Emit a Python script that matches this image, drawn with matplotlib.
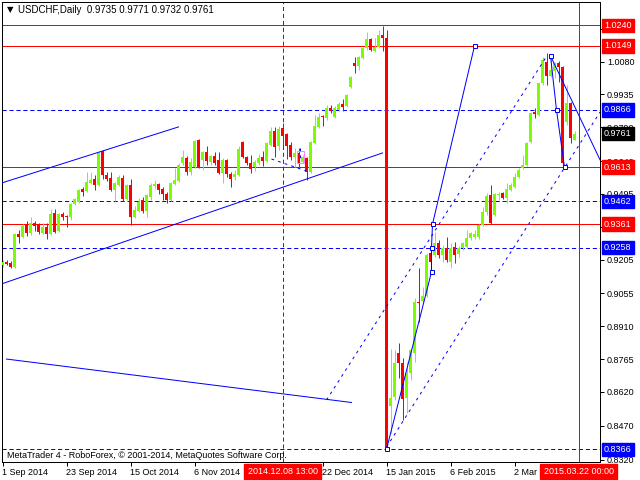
import matplotlib.pyplot as plt
from matplotlib.patches import Rectangle
from matplotlib.transforms import blended_transform_factory

plt.rcParams['lines.scale_dashes'] = False
plt.rcParams['font.family'] = ['Liberation Sans', 'DejaVu Sans']

# daily USDCHF candles, one per bar index
opens = [0.9181, 0.9194, 0.9190, 0.9172, 0.9318, 0.9304, 0.9357, 0.9322, 0.9366, 0.9357,
         0.9322, 0.9349, 0.9318, 0.9411, 0.9331, 0.9406, 0.9397, 0.9393, 0.9450, 0.9459,
         0.9517, 0.9508, 0.9543, 0.9561, 0.9534, 0.9685, 0.9579, 0.9565, 0.9512, 0.9534,
         0.9565, 0.9472, 0.9534, 0.9393, 0.9419, 0.9468, 0.9419, 0.9481, 0.9530, 0.9539,
         0.9517, 0.9495, 0.9468, 0.9539, 0.9552, 0.9632, 0.9654, 0.9592, 0.9614, 0.9733,
         0.9645, 0.9680, 0.9636, 0.9663, 0.9645, 0.9587, 0.9645, 0.9583, 0.9570, 0.9579,
         0.9724, 0.9658, 0.9632, 0.9614, 0.9632, 0.9658, 0.9640, 0.9711, 0.9773, 0.9707,
         0.9786, 0.9760, 0.9711, 0.9658, 0.9676, 0.9636, 0.9654, 0.9592, 0.9720, 0.9791,
         0.9839, 0.9830, 0.9875, 0.9835, 0.9866, 0.9892, 0.9884, 0.9967, 1.0074, 1.0060,
         1.0096, 1.0140, 1.0180, 1.0127, 1.0144, 1.0197, 1.0184, 0.8557, 0.8597, 0.8792,
         0.8748, 0.8593, 0.8703, 0.8792, 0.9017, 0.9022, 0.9044, 0.9234, 0.9225, 0.9278,
         0.9225, 0.9256, 0.9194, 0.9260, 0.9229, 0.9256, 0.9260, 0.9300, 0.9304, 0.9304,
         0.9357, 0.9415, 0.9490, 0.9402, 0.9490, 0.9499, 0.9477, 0.9512, 0.9525, 0.9570,
         0.9609, 0.9623, 0.9724, 0.9857, 0.9844, 0.9985, 1.0078, 1.0016, 1.0038, 1.0074,
         1.0056, 0.9813, 0.9897, 0.9735]
highs = [0.9203, 0.9201, 0.9198, 0.9322, 0.9335, 0.9362, 0.9375, 0.9393, 0.9375, 0.9366,
         0.9366, 0.9366, 0.9428, 0.9428, 0.9411, 0.9415, 0.9402, 0.9455, 0.9477, 0.9517,
         0.9525, 0.9592, 0.9592, 0.9579, 0.9680, 0.9689, 0.9592, 0.9592, 0.9548, 0.9579,
         0.9579, 0.9539, 0.9561, 0.9442, 0.9477, 0.9481, 0.9495, 0.9543, 0.9556, 0.9543,
         0.9525, 0.9503, 0.9548, 0.9609, 0.9632, 0.9689, 0.9663, 0.9654, 0.9733, 0.9738,
         0.9685, 0.9707, 0.9667, 0.9680, 0.9680, 0.9654, 0.9649, 0.9592, 0.9601, 0.9707,
         0.9729, 0.9663, 0.9667, 0.9645, 0.9671, 0.9685, 0.9724, 0.9791, 0.9791, 0.9795,
         0.9808, 0.9764, 0.9724, 0.9698, 0.9698, 0.9667, 0.9658, 0.9729, 0.9844, 0.9853,
         0.9844, 0.9888, 0.9888, 0.9884, 0.9901, 0.9914, 0.9937, 1.0016, 1.0100, 1.0104,
         1.0144, 1.0211, 1.0184, 1.0184, 1.0219, 1.0237, 1.0219, 0.8809, 0.8805, 0.8836,
         0.8770, 0.8752, 0.8814, 0.9035, 0.9167, 0.9083, 0.9234, 0.9256, 0.9327, 0.9291,
         0.9269, 0.9304, 0.9278, 0.9282, 0.9265, 0.9282, 0.9335, 0.9327, 0.9335, 0.9362,
         0.9437, 0.9499, 0.9534, 0.9499, 0.9503, 0.9503, 0.9543, 0.9543, 0.9587, 0.9609,
         0.9667, 0.9724, 0.9857, 0.9875, 0.9990, 1.0100, 1.0118, 1.0109, 1.0078, 1.0082,
         1.0060, 0.9976, 0.9901, 0.9771]
lows = [0.9172, 0.9179, 0.9167, 0.9167, 0.9278, 0.9300, 0.9309, 0.9313, 0.9331, 0.9318,
        0.9318, 0.9296, 0.9313, 0.9324, 0.9327, 0.9380, 0.9349, 0.9380, 0.9446, 0.9455,
        0.9486, 0.9503, 0.9539, 0.9512, 0.9530, 0.9561, 0.9552, 0.9508, 0.9464, 0.9530,
        0.9464, 0.9468, 0.9357, 0.9388, 0.9415, 0.9411, 0.9393, 0.9468, 0.9517, 0.9495,
        0.9468, 0.9455, 0.9464, 0.9534, 0.9548, 0.9623, 0.9579, 0.9579, 0.9609, 0.9609,
        0.9601, 0.9623, 0.9623, 0.9623, 0.9583, 0.9543, 0.9570, 0.9525, 0.9556, 0.9574,
        0.9654, 0.9623, 0.9587, 0.9596, 0.9623, 0.9618, 0.9636, 0.9707, 0.9658, 0.9689,
        0.9707, 0.9649, 0.9645, 0.9614, 0.9609, 0.9632, 0.9556, 0.9587, 0.9716, 0.9786,
        0.9795, 0.9822, 0.9853, 0.9830, 0.9861, 0.9861, 0.9879, 0.9963, 1.0029, 1.0043,
        1.0091, 1.0131, 1.0127, 1.0122, 1.0140, 1.0127, 0.8366, 0.8438, 0.8584, 0.8681,
        0.8496, 0.8527, 0.8672, 0.8752, 0.8929, 0.9017, 0.9039, 0.9172, 0.9216, 0.9212,
        0.9194, 0.9194, 0.9167, 0.9190, 0.9216, 0.9247, 0.9256, 0.9291, 0.9296, 0.9296,
        0.9353, 0.9402, 0.9362, 0.9397, 0.9468, 0.9472, 0.9455, 0.9508, 0.9521, 0.9565,
        0.9605, 0.9618, 0.9720, 0.9830, 0.9839, 0.9976, 0.9976, 1.0012, 1.0007, 0.9990,
        0.9614, 0.9800, 0.9720, 0.9732]
closes = [0.9194, 0.9185, 0.9172, 0.9318, 0.9304, 0.9353, 0.9322, 0.9366, 0.9353, 0.9327,
          0.9349, 0.9318, 0.9406, 0.9327, 0.9406, 0.9393, 0.9393, 0.9450, 0.9472, 0.9512,
          0.9503, 0.9548, 0.9556, 0.9534, 0.9676, 0.9579, 0.9561, 0.9512, 0.9543, 0.9570,
          0.9472, 0.9534, 0.9393, 0.9424, 0.9459, 0.9419, 0.9490, 0.9534, 0.9539, 0.9512,
          0.9495, 0.9468, 0.9543, 0.9556, 0.9623, 0.9658, 0.9592, 0.9636, 0.9729, 0.9614,
          0.9680, 0.9640, 0.9663, 0.9632, 0.9587, 0.9645, 0.9583, 0.9561, 0.9583, 0.9693,
          0.9658, 0.9632, 0.9605, 0.9636, 0.9654, 0.9640, 0.9720, 0.9773, 0.9702, 0.9782,
          0.9751, 0.9707, 0.9658, 0.9676, 0.9632, 0.9658, 0.9592, 0.9724, 0.9795, 0.9835,
          0.9833, 0.9875, 0.9861, 0.9875, 0.9892, 0.9879, 0.9932, 1.0012, 1.0060, 1.0100,
          1.0140, 1.0180, 1.0131, 1.0144, 1.0197, 1.0184, 0.8378, 0.8593, 0.8748, 0.8748,
          0.8588, 0.8703, 0.8805, 0.9017, 0.9011, 0.9044, 0.9225, 0.9194, 0.9278, 0.9225,
          0.9256, 0.9203, 0.9256, 0.9225, 0.9256, 0.9278, 0.9300, 0.9322, 0.9318, 0.9357,
          0.9415, 0.9486, 0.9366, 0.9495, 0.9495, 0.9477, 0.9517, 0.9534, 0.9570, 0.9601,
          0.9623, 0.9720, 0.9853, 0.9848, 0.9985, 1.0087, 1.0016, 1.0043, 1.0074, 1.0056,
          0.9632, 0.9897, 0.9742, 0.9761]

red_levels = [1.0240, 1.0149, 0.9613, 0.9361]
blue_levels = [0.9866, 0.9462, 0.9258, 0.8366]
price_ticks = [1.0225, 1.0080, 0.9935, 0.9790, 0.9640, 0.9495, 0.9350, 0.9205,
               0.9055, 0.8910, 0.8765, 0.8620, 0.8470, 0.8320]
date_pos = [0, 16, 32, 48, 80, 96, 112, 128]
date_labels = ["1 Sep 2014", "23 Sep 2014", "15 Oct 2014", "6 Nov 2014",
               "22 Dec 2014", "15 Jan 2015", "6 Feb 2015", "2 Mar"]
cross_pos = [70, 144]
cross_labels = ["2014.12.08 13:00", "2015.03.22 00:00"]

# drawn objects: (bar index, price) points
channel_up = [(-0.25, 0.9543), (44, 0.9791)]
channel_low = [(-0.25, 0.9097), (95, 0.9676)]
old_line = [(1, 0.8765), (87.25, 0.8573)]
zigzag_a = [(96, 0.8366), (107.25, 0.9150), (107.25, 0.9258), (107.5, 0.9361), (118, 1.0149)]
zigzag_b = [(137, 1.0105), (138.5, 0.9866), (140.5, 0.9613)]
down_line = [(137, 1.0105), (149.4, 0.9645)]
dot_1 = [(81, 0.8584), (136.25, 1.0109)]
dot_2 = [(96, 0.8376), (149.4, 0.9857)]
dot_3 = [(67.25, 0.9649), (76, 0.9596)]
dot_4 = [(74.25, 0.9698), (74.25, 0.9636)]
squares = [(96, 0.8366), (107.25, 0.9150), (107.25, 0.9258), (107.5, 0.9361), (118, 1.0149),
           (137, 1.0105), (138.5, 0.9866), (140.5, 0.9613)]

bull = '#7CFC00'
bear = '#FF0000'
px = 0.72  # one pixel in points

fig = plt.figure(figsize=(6.4, 4.8), dpi=100)
ax = fig.add_axes([2 / 640, 18 / 480, 598 / 640, 460 / 480])
ax.set_xlim(-0.125, 149.375)
ax.set_ylim(0.830996, 1.034316)

# levels
for lv in red_levels:
    ax.axhline(lv, color='red', lw=px, zorder=1)
for lv in blue_levels:
    ax.axhline(lv, color='blue', lw=px, ls=(0, (3, 2)), zorder=1)
ax.axvline(cross_pos[0], color='#CC0000', lw=px, ls=(0, (3, 2)), zorder=1)
ax.axvline(cross_pos[1], color='red', lw=px, zorder=1)

# candles
idx = list(range(len(opens)))
cols = [bull if c >= o else bear for o, c in zip(opens, closes)]
ax.vlines(idx, lows, highs, colors=cols, lw=px, zorder=2)
bottoms = [min(o, c) for o, c in zip(opens, closes)]
heights = [max(abs(c - o), 0.0005) for o, c in zip(opens, closes)]
ax.bar(idx, heights, bottom=bottoms, width=0.75, color=cols, lw=0, zorder=3,
       antialiased=False)

# trendlines
for seg in [channel_up, channel_low, old_line, zigzag_a, zigzag_b, down_line]:
    ax.plot([p[0] for p in seg], [p[1] for p in seg], color='blue', lw=px, zorder=4)
for seg in [dot_1, dot_2, dot_3, dot_4]:
    ax.plot([p[0] for p in seg], [p[1] for p in seg], color='blue', lw=px,
            ls=(0, (2, 3)), zorder=4)
ax.plot([p[0] for p in squares], [p[1] for p in squares], ls='none', marker='s',
        ms=3.5, mfc='white', mec='blue', mew=px, zorder=5)
ax.add_patch(Rectangle((73.5, 0.9632), 1.75, 0.0053, fill=False, ec='#FF80FF', lw=px, zorder=4))

# axes look
for sp in ax.spines.values():
    sp.set_linewidth(px)
    sp.set_color('black')
ax.yaxis.tick_right()
ax.set_yticks(price_ticks)
ax.set_yticklabels(['%.4f' % t for t in price_ticks])
ax.set_xticks(date_pos)
ax.set_xticklabels(date_labels, ha='left')
ax.tick_params(axis='both', direction='out', length=3, width=px, labelsize=6.5, pad=1)
ax.tick_params(axis='y', pad=2)

tr_y = blended_transform_factory(ax.transAxes, ax.transData)
tr_x = blended_transform_factory(ax.transData, ax.transAxes)
for lv in red_levels:
    ax.text(1.0067, lv, '%.4f' % lv, transform=tr_y, color='white', fontsize=6.5, va='center',
            ha='left', bbox=dict(fc='red', ec='red', pad=1.6), clip_on=False, zorder=6)
for lv in blue_levels:
    ax.text(1.0067, lv, '%.4f' % lv, transform=tr_y, color='white', fontsize=6.5, va='center',
            ha='left', bbox=dict(fc='blue', ec='blue', pad=1.6), clip_on=False, zorder=6)
ax.text(1.0067, closes[-1], '%.4f' % closes[-1], transform=tr_y, color='white', fontsize=6.5,
        va='center', ha='left', bbox=dict(fc='black', ec='black', pad=1.6), clip_on=False,
        zorder=6)
for pos, lab in zip(cross_pos, cross_labels):
    ax.text(pos, -0.021, lab, transform=tr_x, color='white', fontsize=6.5, va='center',
            ha='center', bbox=dict(fc='red', ec='red', pad=2.2), clip_on=False, zorder=6)

fig.text(7 / 640, 1 - 10 / 480, '\u25bc', fontsize=6, family='DejaVu Sans', va='center')
fig.text(18 / 640, 1 - 10 / 480, 'USDCHF,Daily  0.9735 0.9771 0.9732 0.9761', fontsize=7,
         va='center')
fig.text(7 / 640, 1 - 455 / 480, 'MetaTrader 4 - RoboForex, \u00a9 2001-2014, MetaQuotes Software Corp.',
         fontsize=6.5, va='center')

fig.savefig('out.png', dpi=100)
